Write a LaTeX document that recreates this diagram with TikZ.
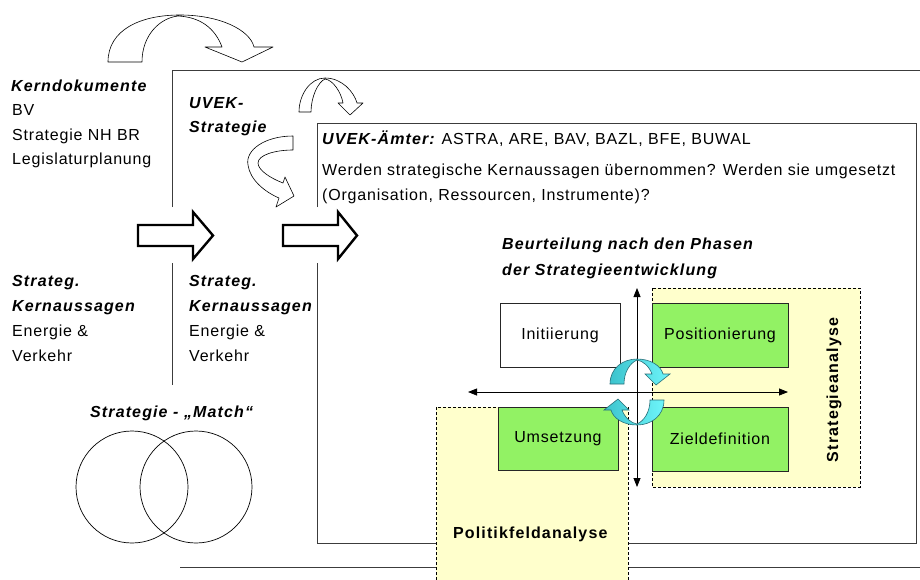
\documentclass[tikz,border=0pt]{standalone}
\usepackage{fontspec}
\setmainfont{Liberation Sans}[LetterSpace=5]
\newfontfamily\boldfam{Liberation Sans}[LetterSpace=7]
\usetikzlibrary{arrows.meta}
\definecolor{lgreen}{RGB}{146,242,100}
\definecolor{lyellow}{RGB}{255,255,204}
\definecolor{cyanA}{RGB}{60,195,205}
\definecolor{cyanB}{RGB}{110,245,250}
\definecolor{cyanD}{RGB}{40,110,120}
\definecolor{framec}{RGB}{60,60,60}
\begin{document}
\begin{tikzpicture}[x=1pt,y=-1pt,
  txt/.style={inner sep=0pt, anchor=base west, font=\fontsize{16}{19}\selectfont},
  bi/.style={inner sep=0pt, anchor=base west, font=\fontsize{16}{19}\selectfont\boldfam\bfseries\itshape},
  bu/.style={inner sep=0pt, font=\fontsize{16}{19}\selectfont\boldfam\bfseries},
  frameline/.style={draw=framec, line width=0.8pt},
  blockarrow/.style={draw=black, fill=white, line width=2.4pt, line join=miter},
  curvearrow/.style={draw=black, fill=white, line width=0.6pt, line join=round},
  cyanarrow/.style={draw=cyanD, line width=0.6pt, left color=cyanA, right color=cyanB},
  phasebox/.style={draw=black!85, line width=0.8pt, inner sep=0pt, minimum height=64pt, font=\fontsize{16}{19}\selectfont},
  dashbox/.style={draw=black, line width=0.7pt, dash pattern=on 3pt off 2pt},
  axis/.style={draw=black, line width=0.8pt, {Triangle[length=9pt,width=7pt]}-{Triangle[length=9pt,width=7pt]}}
]
\useasboundingbox (0,0) rectangle (920,579);
\fill[white] (0,0) rectangle (920,579);

% frames
\draw[frameline] (172,207) -- (172,70) -- (920,70);
\draw[frameline] (172,263) -- (172,385);
\draw[frameline] (180,567) -- (920,567);
\draw[frameline] (317,207) -- (317,123) -- (916,123) -- (916,543) -- (317,543) -- (317,263);

% yellow analysis areas
\fill[lyellow] (652,288) rectangle (860,487);
\draw[dashbox] (652,288) rectangle (860,487);
\fill[lyellow] (436,407) rectangle (628,580);
\draw[dashbox] (436,580) -- (436,407) -- (628,407) -- (628,580);

% phase boxes
\node[phasebox, fill=white, minimum width=120pt] (init) at (560,335) {Initiierung};
\node[phasebox, fill=lgreen, minimum width=136pt] (pos) at (720,335) {Positionierung};
\node[phasebox, fill=lgreen, minimum width=120pt, minimum height=63pt] (ums) at (558,438.5) {Umsetzung};
\node[phasebox, fill=lgreen, minimum width=136pt] (ziel) at (720,439) {Zieldefinition};

% axes
\coordinate (vtop) at (637,288);
\coordinate (vbot) at (637,487);
\coordinate (hleft) at (468,392);
\coordinate (hright) at (788,392);
\draw[axis] (vtop) -- (vbot);
\draw[axis] (hleft) -- (hright);

% cyan circular arrows
\path[cyanarrow] (610,384) .. controls (610,368) and (623,359) .. (637,359)
  .. controls (651,359) and (661,366) .. (663,374) -- (670,374) -- (656,385)
  -- (645,374) -- (652,374) .. controls (649,366) and (643,361) .. (637,360)
  .. controls (630,363) and (624,372) .. (624,384) -- cycle;
\begin{scope}[rotate around={180:(637,392)}]
\path[cyanarrow] (610,384) .. controls (610,368) and (623,359) .. (637,359)
  .. controls (651,359) and (661,366) .. (663,374) -- (670,374) -- (656,385)
  -- (645,374) -- (652,374) .. controls (649,366) and (643,361) .. (637,360)
  .. controls (630,363) and (624,372) .. (624,384) -- cycle;
\end{scope}

% rotated labels
\node[bu, rotate=90] (sa) at (834,390) {Strategieanalyse};
\node[bu, anchor=base west] (pfa) at (453,538) {Politikfeldanalyse};

% block arrows
\draw[blockarrow] (138,225) -- (193,225) -- (193,212) -- (213,235.5) -- (193,259) -- (193,246) -- (138,246) -- cycle;
\draw[blockarrow] (283,225) -- (338,225) -- (338,212) -- (357,235.5) -- (338,259) -- (338,246) -- (283,246) -- cycle;

% curved white arrows
\path[curvearrow] (108,62) .. controls (108,30) and (140,15) .. (180,15)
  .. controls (220,15) and (250,30) .. (254,47) -- (273,47) -- (242,62) -- (205,47) -- (222,47)
  .. controls (215,28) and (200,17) .. (178,16) .. controls (160,18) and (142,35) .. (142,62) -- cycle;
\path[curvearrow] (299,112) .. controls (299,95) and (310,78) .. (325,78)
  .. controls (342,78) and (354,92) .. (357,103) -- (363,103) -- (350,115) -- (338,103) -- (343,103)
  .. controls (341,92) and (333,80) .. (325,79) .. controls (318,82) and (311,97) .. (311,112) -- cycle;
\path[curvearrow] (293,136) .. controls (265,136) and (245,150) .. (248,165)
  .. controls (250,180) and (265,192) .. (279,198) -- (276,207) -- (294,196) -- (285,177) -- (283,183)
  .. controls (270,178) and (258,170) .. (258,163) .. controls (258,155) and (275,150) .. (293,150) -- cycle;

% left texts
\node[bi] (kd) at (11,91) {Kerndokumente};
\node[txt] (bv) at (12,115.5) {BV};
\node[txt] (snh) at (12,140) {Strategie NH BR};
\node[txt] (lp) at (12,164.5) {Legislaturplanung};

\node[bi] (uv1) at (189,108) {UVEK-};
\node[bi] (uv2) at (189,132) {Strategie};

\node[txt] (amt) at (322,144.5) {{\boldfam\bfseries\itshape UVEK-Ämter:} ASTRA, ARE, BAV, BAZL, BFE, BUWAL};
\node[txt] (q1) at (322,175) {Werden strategische Kernaussagen übernommen? Werden sie umgesetzt};
\node[txt] (q2) at (322,200) {(Organisation, Ressourcen, Instrumente)?};

\node[bi] (b1) at (502,249.5) {Beurteilung nach den Phasen};
\node[bi] (b2) at (502,275) {der Strategieentwicklung};

\node[bi] (s1a) at (12,286.5) {Strateg.};
\node[bi] (s1b) at (12,311.5) {Kernaussagen};
\node[txt] (s1c) at (12,336.5) {Energie \&};
\node[txt] (s1d) at (12,361.5) {Verkehr};

\node[bi] (s2a) at (189,286.5) {Strateg.};
\node[bi] (s2b) at (189,311.5) {Kernaussagen};
\node[txt] (s2c) at (189,336.5) {Energie \&};
\node[txt] (s2d) at (189,361.5) {Verkehr};

\node[bi] (match) at (90,417.5) {Strategie - „Match“};
\node[draw=black, line width=0.7pt, circle, minimum size=112pt, inner sep=0pt] (c1) at (132,487) {};
\node[draw=black, line width=0.7pt, circle, minimum size=112pt, inner sep=0pt] (c2) at (196,487) {};
\end{tikzpicture}
\end{document}
